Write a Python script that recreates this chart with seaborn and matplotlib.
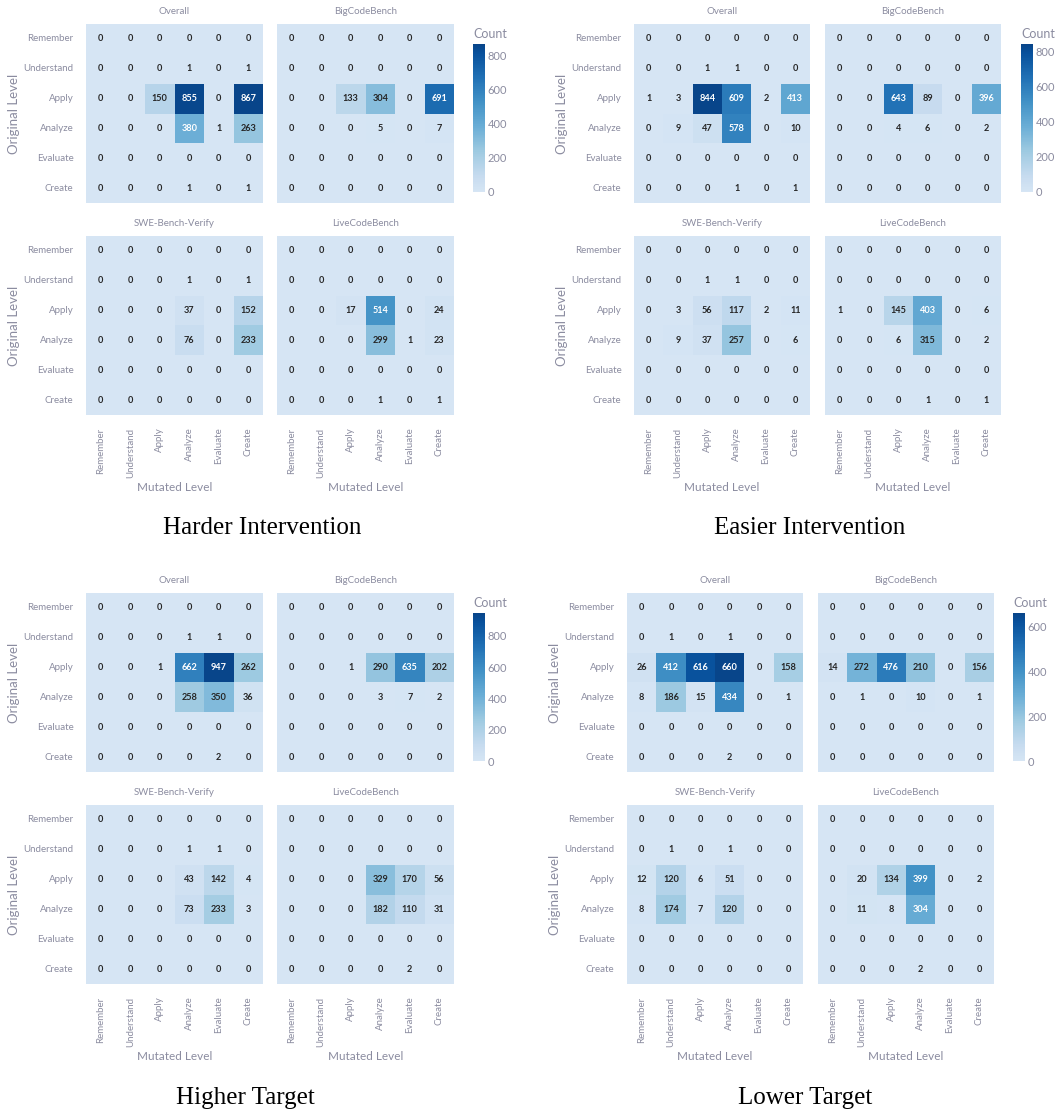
import numpy as np
import pandas as pd
import matplotlib
matplotlib.use("Agg")
import matplotlib.pyplot as plt
from matplotlib.colors import ListedColormap
import seaborn as sns

sns.set_theme(style="white")
plt.rcParams["font.family"] = ["Lato", "DejaVu Sans"]

levels = ["Remember", "Understand", "Apply", "Analyze", "Evaluate", "Create"]
benchmarks = ["Overall", "BigCodeBench", "SWE-Bench-Verify", "LiveCodeBench"]
scenarios = ["Harder Intervention", "Easier Intervention", "Higher Target", "Lower Target"]

# Rows: original level, columns: mutated level
harder_overall = [[0, 0, 0, 0, 0, 0], [0, 0, 0, 1, 0, 1], [0, 0, 150, 855, 0, 867],
                  [0, 0, 0, 380, 1, 263], [0, 0, 0, 0, 0, 0], [0, 0, 0, 1, 0, 1]]
harder_bcb = [[0, 0, 0, 0, 0, 0], [0, 0, 0, 0, 0, 0], [0, 0, 133, 304, 0, 691],
              [0, 0, 0, 5, 0, 7], [0, 0, 0, 0, 0, 0], [0, 0, 0, 0, 0, 0]]
harder_swe = [[0, 0, 0, 0, 0, 0], [0, 0, 0, 1, 0, 1], [0, 0, 0, 37, 0, 152],
              [0, 0, 0, 76, 0, 233], [0, 0, 0, 0, 0, 0], [0, 0, 0, 0, 0, 0]]
harder_lcb = [[0, 0, 0, 0, 0, 0], [0, 0, 0, 0, 0, 0], [0, 0, 17, 514, 0, 24],
              [0, 0, 0, 299, 1, 23], [0, 0, 0, 0, 0, 0], [0, 0, 0, 1, 0, 1]]

easier_overall = [[0, 0, 0, 0, 0, 0], [0, 0, 1, 1, 0, 0], [1, 3, 844, 609, 2, 413],
                  [0, 9, 47, 578, 0, 10], [0, 0, 0, 0, 0, 0], [0, 0, 0, 1, 0, 1]]
easier_bcb = [[0, 0, 0, 0, 0, 0], [0, 0, 0, 0, 0, 0], [0, 0, 643, 89, 0, 396],
              [0, 0, 4, 6, 0, 2], [0, 0, 0, 0, 0, 0], [0, 0, 0, 0, 0, 0]]
easier_swe = [[0, 0, 0, 0, 0, 0], [0, 0, 1, 1, 0, 0], [0, 3, 56, 117, 2, 11],
              [0, 9, 37, 257, 0, 6], [0, 0, 0, 0, 0, 0], [0, 0, 0, 0, 0, 0]]
easier_lcb = [[0, 0, 0, 0, 0, 0], [0, 0, 0, 0, 0, 0], [1, 0, 145, 403, 0, 6],
              [0, 0, 6, 315, 0, 2], [0, 0, 0, 0, 0, 0], [0, 0, 0, 1, 0, 1]]

higher_overall = [[0, 0, 0, 0, 0, 0], [0, 0, 0, 1, 1, 0], [0, 0, 1, 662, 947, 262],
                  [0, 0, 0, 258, 350, 36], [0, 0, 0, 0, 0, 0], [0, 0, 0, 0, 2, 0]]
higher_bcb = [[0, 0, 0, 0, 0, 0], [0, 0, 0, 0, 0, 0], [0, 0, 1, 290, 635, 202],
              [0, 0, 0, 3, 7, 2], [0, 0, 0, 0, 0, 0], [0, 0, 0, 0, 0, 0]]
higher_swe = [[0, 0, 0, 0, 0, 0], [0, 0, 0, 1, 1, 0], [0, 0, 0, 43, 142, 4],
              [0, 0, 0, 73, 233, 3], [0, 0, 0, 0, 0, 0], [0, 0, 0, 0, 0, 0]]
higher_lcb = [[0, 0, 0, 0, 0, 0], [0, 0, 0, 0, 0, 0], [0, 0, 0, 329, 170, 56],
              [0, 0, 0, 182, 110, 31], [0, 0, 0, 0, 0, 0], [0, 0, 0, 0, 2, 0]]

lower_overall = [[0, 0, 0, 0, 0, 0], [0, 1, 0, 1, 0, 0], [26, 412, 616, 660, 0, 158],
                 [8, 186, 15, 434, 0, 1], [0, 0, 0, 0, 0, 0], [0, 0, 0, 2, 0, 0]]
lower_bcb = [[0, 0, 0, 0, 0, 0], [0, 0, 0, 0, 0, 0], [14, 272, 476, 210, 0, 156],
             [0, 1, 0, 10, 0, 1], [0, 0, 0, 0, 0, 0], [0, 0, 0, 0, 0, 0]]
lower_swe = [[0, 0, 0, 0, 0, 0], [0, 1, 0, 1, 0, 0], [12, 120, 6, 51, 0, 0],
             [8, 174, 7, 120, 0, 0], [0, 0, 0, 0, 0, 0], [0, 0, 0, 0, 0, 0]]
lower_lcb = [[0, 0, 0, 0, 0, 0], [0, 0, 0, 0, 0, 0], [0, 20, 134, 399, 0, 2],
             [0, 11, 8, 304, 0, 0], [0, 0, 0, 0, 0, 0], [0, 0, 0, 2, 0, 0]]

matrices = {
    "Harder Intervention": [harder_overall, harder_bcb, harder_swe, harder_lcb],
    "Easier Intervention": [easier_overall, easier_bcb, easier_swe, easier_lcb],
    "Higher Target": [higher_overall, higher_bcb, higher_swe, higher_lcb],
    "Lower Target": [lower_overall, lower_bcb, lower_swe, lower_lcb],
}

W, H = 1063, 1115
fig = plt.figure(figsize=(W / 100, H / 100), dpi=100)

cmap = ListedColormap(plt.get_cmap("Blues")(np.linspace(0.17, 0.92, 256)))
gray = "#8b8ca0"


def px_axes(x, y, w, h):
    return fig.add_axes([x / W, 1 - (y + h) / H, w / W, h / H])


# panel geometry per scenario: column lefts, row tops, block size, colorbar x, caption centre
layout = {
    "Harder Intervention": dict(cols=[86, 277], rows=[24, 236], w=177, h=179, cbx=473, cap=(262, 528)),
    "Easier Intervention": dict(cols=[634, 825], rows=[24, 236], w=176, h=179, cbx=1021, cap=(810, 528)),
    "Higher Target": dict(cols=[86, 277], rows=[593, 805], w=177, h=179, cbx=473, cap=(245, 1098)),
    "Lower Target": dict(cols=[627, 818], rows=[593, 805], w=176, h=179, cbx=1013, cap=(805, 1098)),
}

for scen in scenarios:
    lay = layout[scen]
    mats = [np.array(m) for m in matrices[scen]]
    vmax = mats[0].max()
    for k, (bench, mat) in enumerate(zip(benchmarks, mats)):
        r, c = divmod(k, 2)
        ax = px_axes(lay["cols"][c], lay["rows"][r], lay["w"], lay["h"])
        df = pd.DataFrame(mat, index=levels, columns=levels)
        sns.heatmap(df, ax=ax, cmap=cmap, vmin=0, vmax=vmax, annot=True, fmt="d",
                    cbar=False, square=False,
                    annot_kws=dict(fontsize=6.6, fontweight="bold"))
        ax.set_title(bench, fontsize=7, color=gray, pad=7)
        ax.tick_params(length=0, labelsize=7.0, colors=gray, pad=9)
        if c == 0:
            ax.set_ylabel("Original Level", fontsize=9.5, color=gray)
            ax.yaxis.set_label_coords(-66 / lay["w"], 0.5)
            ax.set_yticklabels(levels, rotation=0)
        else:
            ax.set_ylabel("")
            ax.set_yticks([])
        if r == 1:
            ax.set_xlabel("Mutated Level", fontsize=8.5, color=gray)
            ax.xaxis.set_label_coords(0.5, -67 / lay["h"])
            ax.set_xticklabels(levels, rotation=90)
        else:
            ax.set_xlabel("")
            ax.set_xticks([])
        if k == 0:
            mappable = ax.collections[0]
    top = lay["rows"][0]
    cax = px_axes(lay["cbx"], top + 20, 12, 148)
    cb = fig.colorbar(mappable, cax=cax)
    cb.outline.set_visible(False)
    cb.set_ticks([t for t in range(0, int(vmax) + 1, 200)])
    cax.tick_params(length=0, labelsize=8, colors=gray, pad=2)
    cax.set_title("Count", fontsize=9, color=gray, pad=4, loc="left")
    cx, cy = lay["cap"]
    fig.text(cx / W, 1 - cy / H, scen, ha="center", va="center",
             fontsize=18, family=["Liberation Serif", "DejaVu Serif"], color="black")

fig.savefig("out.png", dpi=100)
